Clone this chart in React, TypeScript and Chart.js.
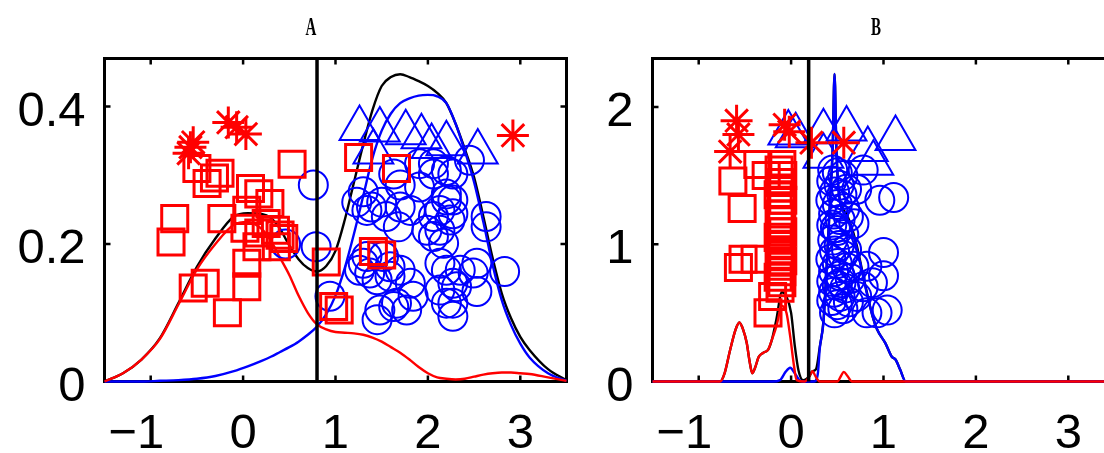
import React, { useEffect, useRef } from 'react';
import { Chart, registerables } from 'chart.js';

Chart.register(...registerables);

// ---------------- shared axis data ----------------
const X_MIN = -1.5;
const X_MAX = 3.5;
const X_TICKS = [-1, 0, 1, 2, 3];
const X_TICK_LABELS = ['\u22121', '0', '1', '2', '3'];

// ---------------- panel A ----------------
const A_TITLE = 'A';
const A_Y_MAX = 0.47;
const A_Y_TICKS = [0, 0.2, 0.4];
const A_Y_TICK_LABELS = ['0', '0.2', '0.4'];
const A_SPLIT = 0.8;

const A_CURVE_X = [-1.5, -1.3, -1.1, -0.9, -0.7, -0.5, -0.3, -0.1, 0.05, 0.2, 0.3, 0.4, 0.5, 0.6, 0.7, 0.8, 0.9, 1.0, 1.1, 1.2, 1.3, 1.4, 1.5, 1.6, 1.7, 1.8, 1.9, 2.0, 2.1, 2.2, 2.3, 2.4, 2.5, 2.6, 2.7, 2.8, 2.9, 3.0, 3.1, 3.3, 3.5];
const A_RED_Y = [0.0, 0.012, 0.032, 0.062, 0.112, 0.163, 0.2, 0.228, 0.232, 0.222, 0.205, 0.18, 0.155, 0.125, 0.1, 0.083, 0.076, 0.072, 0.071, 0.07, 0.068, 0.064, 0.058, 0.05, 0.042, 0.032, 0.021, 0.012, 0.006, 0.004, 0.003, 0.004, 0.007, 0.01, 0.012, 0.013, 0.013, 0.012, 0.011, 0.006, 0.001];
const A_BLUE_Y = [0.0, 0.0, 0.0, 0.001, 0.002, 0.004, 0.008, 0.015, 0.022, 0.03, 0.036, 0.043, 0.05, 0.058, 0.068, 0.08, 0.098, 0.125, 0.165, 0.215, 0.27, 0.325, 0.365, 0.39, 0.405, 0.412, 0.416, 0.417, 0.415, 0.405, 0.375, 0.335, 0.29, 0.232, 0.17, 0.118, 0.082, 0.055, 0.035, 0.012, 0.001];
const A_BLACK_Y = [0.0, 0.012, 0.032, 0.063, 0.114, 0.167, 0.208, 0.24, 0.245, 0.244, 0.238, 0.222, 0.198, 0.178, 0.165, 0.16, 0.168, 0.19, 0.235, 0.29, 0.345, 0.395, 0.43, 0.443, 0.447, 0.443, 0.437, 0.43, 0.42, 0.405, 0.375, 0.338, 0.297, 0.24, 0.18, 0.128, 0.092, 0.065, 0.046, 0.018, 0.002];

const A_SQUARES: [number, number][] = [
  [0.53, 0.316], [-0.25, 0.303], [-0.39, 0.288], [-0.31, 0.296], [-0.5, 0.31],
  [0.08, 0.281], [0.17, 0.273], [0.29, 0.259], [-0.74, 0.237], [-0.78, 0.203],
  [-0.23, 0.237], [0.04, 0.249], [0.02, 0.223], [0.17, 0.216], [0.4, 0.213],
  [0.44, 0.208], [0.35, 0.22], [0.15, 0.196], [0.36, 0.196], [0.25, 0.23],
  [0.04, 0.172], [0.04, 0.138], [-0.41, 0.143], [-0.54, 0.136], [-0.17, 0.1],
  [0.9, 0.174], [1.25, 0.326], [1.66, 0.31], [1.41, 0.189], [1.5, 0.184],
  [0.98, 0.109], [1.04, 0.104],
];
const A_STARS: [number, number][] = [
  [-0.57, 0.341], [-0.59, 0.332], [-0.54, 0.348], [-0.16, 0.377], [-0.07, 0.37],
  [0.03, 0.36], [2.92, 0.358],
];
const A_TRIANGLES: [number, number][] = [
  [1.26, 0.368], [1.48, 0.366], [1.76, 0.362], [1.93, 0.356], [2.04, 0.342],
  [2.2, 0.346], [2.54, 0.334], [1.41, 0.334],
];
const A_CIRCLES: [number, number][] = [
  [0.76, 0.286], [0.79, 0.196], [0.46, 0.2], [0.94, 0.124],
  [1.23, 0.261], [1.3, 0.276], [1.34, 0.249], [1.39, 0.254], [1.5, 0.261],
  [1.63, 0.302], [1.7, 0.286], [1.55, 0.24], [1.81, 0.249], [1.7, 0.254],
  [1.68, 0.225], [1.99, 0.22], [2.13, 0.249], [2.2, 0.273], [2.2, 0.264],
  [2.06, 0.302], [2.06, 0.317], [1.91, 0.317], [1.91, 0.283], [2.27, 0.302],
  [2.45, 0.322], [2.2, 0.307], [2.27, 0.264], [2.27, 0.244], [2.63, 0.24],
  [2.63, 0.225], [2.13, 0.22], [2.17, 0.201], [2.06, 0.24], [2.24, 0.235],
  [2.06, 0.211], [2.83, 0.16], [2.49, 0.158], [2.53, 0.172], [2.2, 0.162],
  [2.13, 0.172], [2.35, 0.162], [2.53, 0.131], [2.31, 0.138], [2.27, 0.143],
  [2.27, 0.114], [2.27, 0.095], [2.2, 0.114], [2.13, 0.133], [1.34, 0.182],
  [1.52, 0.182], [1.37, 0.158], [1.59, 0.153], [1.7, 0.162], [1.48, 0.104],
  [1.66, 0.114], [1.45, 0.09], [1.77, 0.104], [1.84, 0.124], [1.81, 0.143],
  [1.26, 0.162], [1.3, 0.172], [1.45, 0.148], [1.59, 0.167], [1.63, 0.109],
];

// ---------------- panel B ----------------
const B_TITLE = 'B';
const B_Y_MAX = 2.353;
const B_Y_TICKS = [0, 1, 2];
const B_Y_TICK_LABELS = ['0', '1', '2'];
const B_SPLIT = 0.19;

const B_RED_X = [-1.5, -0.77, -0.72, -0.66, -0.6, -0.56, -0.52, -0.48, -0.45, -0.42, -0.39, -0.35, -0.3, -0.25, -0.21, -0.16, -0.1, -0.05, -0.01, 0.03, 0.06, 0.15, 0.2, 0.23, 0.27, 0.31, 0.5, 0.54, 0.57, 0.61, 0.66, 3.5];
const B_RED_Y = [0, 0, 0.06, 0.23, 0.38, 0.43, 0.38, 0.28, 0.15, 0.06, 0.1, 0.18, 0.21, 0.23, 0.3, 0.4, 0.55, 0.5, 0.33, 0.12, 0.01, 0, 0.04, 0.075, 0.03, 0, 0, 0.04, 0.07, 0.04, 0, 0];
const B_BLUE_X = [-1.5, -0.2, -0.12, -0.06, -0.01, 0.04, 0.09, 0.13, 0.25, 0.29, 0.31, 0.35, 0.39, 0.42, 0.45, 0.47, 0.49, 0.52, 0.6, 0.7, 0.8, 0.88, 0.93, 1.02, 1.09, 1.13, 1.18, 1.24, 3.5];
const B_BLUE_Y = [0, 0, 0.01, 0.07, 0.1, 0.06, 0.01, 0, 0, 0.06, 0.24, 0.43, 0.9, 1.3, 1.7, 2.24, 1.7, 1.35, 1.2, 1.0, 0.7, 0.48, 0.38, 0.28, 0.18, 0.16, 0.087, 0, 0];
const B_BLACK_X = [-1.5, -0.77, -0.72, -0.66, -0.6, -0.56, -0.52, -0.48, -0.45, -0.42, -0.39, -0.35, -0.3, -0.25, -0.21, -0.16, -0.1, -0.05, 0.0, 0.04, 0.08, 0.13, 0.2, 0.23, 0.27, 0.31, 0.35, 0.39, 0.42, 0.45, 0.47, 0.49, 0.52, 0.6, 0.7, 0.8, 0.88, 0.93, 1.02, 1.09, 1.13, 1.18, 1.24, 3.5];
const B_BLACK_Y = [0, 0, 0.06, 0.23, 0.38, 0.43, 0.38, 0.28, 0.15, 0.06, 0.1, 0.18, 0.21, 0.23, 0.3, 0.45, 0.65, 0.62, 0.5, 0.26, 0.08, 0.01, 0.04, 0.075, 0.09, 0.25, 0.44, 0.9, 1.3, 1.7, 2.24, 1.7, 1.36, 1.22, 1.02, 0.71, 0.48, 0.38, 0.28, 0.18, 0.16, 0.087, 0, 0];

const B_SQUARES: [number, number][] = [
  [-0.1, 1.58], [-0.13, 1.54], [-0.09, 1.5], [-0.12, 1.45], [-0.1, 1.41],
  [-0.14, 1.36], [-0.09, 1.32], [-0.11, 1.28], [-0.13, 1.22], [-0.1, 1.18],
  [-0.12, 1.13], [-0.09, 1.09], [-0.14, 1.05], [-0.11, 1.0], [-0.1, 0.96],
  [-0.13, 0.92], [-0.09, 0.88], [-0.12, 0.84], [-0.1, 0.8], [-0.14, 0.76],
  [-0.1, 0.72], [-0.12, 0.68],
  [-0.63, 1.46], [-0.53, 1.26], [-0.36, 1.58], [-0.27, 1.5], [-0.57, 0.83],
  [-0.52, 0.89], [-0.39, 0.89], [-0.25, 0.5], [-0.2, 0.62],
];
const B_STARS: [number, number][] = [
  [-0.59, 1.9], [-0.57, 1.8], [-0.66, 1.675], [-0.07, 1.87], [-0.02, 1.82],
  [0.22, 1.74], [0.57, 1.74],
];
const B_TRIANGLES: [number, number][] = [
  [-0.03, 1.81], [0.05, 1.79], [0.35, 1.82], [0.6, 1.84], [0.83, 1.69],
  [1.13, 1.77], [0.35, 1.64], [0.89, 1.59],
];
const B_CIRCLES: [number, number][] = [
  [0.45, 1.54], [0.5, 1.52], [0.56, 1.5], [0.44, 1.46], [0.52, 1.43],
  [0.47, 1.38], [0.55, 1.36], [0.43, 1.32], [0.5, 1.29], [0.58, 1.26],
  [0.46, 1.22], [0.53, 1.18], [0.44, 1.14], [0.5, 1.1], [0.57, 1.07],
  [0.45, 1.03], [0.52, 0.99], [0.47, 0.95], [0.56, 0.92], [0.43, 0.89],
  [0.5, 0.86], [0.6, 0.83], [0.46, 0.8], [0.53, 0.77], [0.44, 0.73],
  [0.5, 0.7], [0.58, 0.68], [0.46, 0.65], [0.53, 0.62], [0.44, 0.59],
  [0.5, 0.56], [0.56, 0.53], [0.47, 0.5], [0.62, 0.58], [0.64, 0.75],
  [0.6, 0.96], [0.62, 1.2], [0.6, 1.4], [0.48, 1.12], [0.54, 0.72],
  [0.96, 1.32], [1.11, 1.34], [0.78, 1.54], [0.71, 1.4], [0.68, 1.15],
  [1.0, 0.94], [1.0, 0.77], [0.82, 0.84], [0.78, 0.69], [1.04, 0.52],
  [0.93, 0.5], [0.82, 0.5], [0.68, 0.84], [0.71, 0.62], [0.88, 0.72],
];

// ---------------- helpers ----------------
const RED = '#ff0000';
const BLUE = '#0000ff';
const BLACK = '#000000';

const pts = (arr: [number, number][]) => arr.map(([x, y]) => ({ x, y }));
const zip = (xs: number[], ys: number[]) => xs.map((x, i) => ({ x, y: ys[i] }));

function curveDs(data: any[], color: string, order: number) {
  return {
    data,
    showLine: true,
    borderColor: color,
    borderWidth: 2.4,
    pointRadius: 0,
    pointHoverRadius: 0,
    cubicInterpolationMode: 'monotone',
    clip: false,
    order,
  };
}

function markerDs(data: any[], style: string, radius: number, color: string, width: number, order: number) {
  return {
    data,
    showLine: false,
    pointStyle: style,
    pointRadius: radius,
    pointHoverRadius: radius,
    pointBorderColor: color,
    pointBorderWidth: width,
    pointBackgroundColor: 'rgba(0,0,0,0)',
    borderColor: color,
    backgroundColor: 'rgba(0,0,0,0)',
    clip: false,
    order,
  };
}

function splitDs(x: number, yMax: number) {
  return {
    data: [{ x, y: 0 }, { x, y: yMax }],
    showLine: true,
    borderColor: BLACK,
    borderWidth: 3.5,
    pointRadius: 0,
    clip: false,
    order: 0,
  };
}

const TICK_FONT = '49px "Liberation Sans", Arial, sans-serif';

function axesPlugin(cfg: { yTicks: number[]; yLabels: string[]; title: string; titleX: number }) {
  return {
    id: 'matlabAxes',
    beforeDatasetsDraw(chart: any) {
      const { ctx, chartArea: a, scales } = chart;
      const xs = scales.x;
      const ys = scales.y;
      ctx.save();
      ctx.strokeStyle = BLACK;
      ctx.lineWidth = 3;
      ctx.strokeRect(a.left, a.top, a.right - a.left, a.bottom - a.top);
      ctx.lineWidth = 2.5;
      const tl = 6;
      ctx.beginPath();
      X_TICKS.forEach((v) => {
        const px = xs.getPixelForValue(v);
        ctx.moveTo(px, a.bottom);
        ctx.lineTo(px, a.bottom - tl);
        ctx.moveTo(px, a.top);
        ctx.lineTo(px, a.top + tl);
      });
      cfg.yTicks.forEach((v) => {
        const py = ys.getPixelForValue(v);
        ctx.moveTo(a.left, py);
        ctx.lineTo(a.left + tl, py);
        ctx.moveTo(a.right, py);
        ctx.lineTo(a.right - tl, py);
      });
      ctx.stroke();

      ctx.fillStyle = BLACK;
      ctx.font = TICK_FONT;
      ctx.textBaseline = 'alphabetic';
      ctx.textAlign = 'right';
      X_TICKS.forEach((v, i) => {
        const label = X_TICK_LABELS[i];
        const digits = label.replace('\u2212', '');
        const w = ctx.measureText(digits).width;
        const px = xs.getPixelForValue(v);
        ctx.fillText(label, px + w / 2, 448);
      });
      cfg.yTicks.forEach((v, i) => {
        const py = ys.getPixelForValue(v);
        ctx.fillText(cfg.yLabels[i], a.left - 19, py + 19);
      });

      // title
      ctx.save();
      ctx.translate(cfg.titleX, 35);
      ctx.scale(0.6, 1);
      ctx.font = 'bold 25px "Liberation Serif", serif';
      ctx.textAlign = 'center';
      ctx.textBaseline = 'alphabetic';
      ctx.fillText(cfg.title, 0, 0);
      ctx.restore();
      ctx.restore();
    },
  };
}

function makeChart(
  canvas: HTMLCanvasElement,
  datasets: any[],
  yMax: number,
  padding: { left: number; right: number; top: number; bottom: number },
  plugin: any
) {
  return new Chart(canvas, {
    type: 'scatter',
    data: { datasets },
    options: {
      animation: false,
      responsive: false,
      devicePixelRatio: 1,
      events: [],
      layout: { padding, autoPadding: false },
      plugins: { legend: { display: false }, tooltip: { enabled: false }, title: { display: false } },
      scales: {
        x: { type: 'linear', min: X_MIN, max: X_MAX, display: false },
        y: { type: 'linear', min: 0, max: yMax, display: false },
      },
    } as any,
    plugins: [plugin],
  });
}

export default function App() {
  const refA = useRef<HTMLCanvasElement>(null);
  const refB = useRef<HTMLCanvasElement>(null);

  useEffect(() => {
    const top = 58.5;
    const bottom = 453 - 381.5;

    const dsA = [
      splitDs(A_SPLIT, A_Y_MAX),
      markerDs(pts(A_STARS), 'star', 16, RED, 3, 1),
      markerDs(pts(A_SQUARES), 'rect', 18.4, RED, 3, 2),
      markerDs(pts(A_TRIANGLES), 'triangle', 23, BLUE, 2, 3),
      markerDs(pts(A_CIRCLES), 'circle', 14.5, BLUE, 2, 4),
      curveDs(zip(A_CURVE_X, A_RED_Y), RED, 5),
      curveDs(zip(A_CURVE_X, A_BLUE_Y), BLUE, 6),
      curveDs(zip(A_CURVE_X, A_BLACK_Y), BLACK, 7),
    ];
    const dsB = [
      splitDs(B_SPLIT, B_Y_MAX),
      markerDs(pts(B_STARS), 'star', 16, RED, 3, 1),
      markerDs(pts(B_SQUARES), 'rect', 18.4, RED, 3, 2),
      markerDs(pts(B_TRIANGLES), 'triangle', 23, BLUE, 2, 3),
      markerDs(pts(B_CIRCLES), 'circle', 14.5, BLUE, 2, 4),
      curveDs(zip(B_RED_X, B_RED_Y), RED, 5),
      curveDs(zip(B_BLUE_X, B_BLUE_Y), BLUE, 6),
      curveDs(zip(B_BLACK_X, B_BLACK_Y), BLACK, 7),
    ];

    const chartA = makeChart(
      refA.current!,
      dsA,
      A_Y_MAX,
      { left: 104.5, right: 580 - 566.5, top, bottom },
      axesPlugin({ yTicks: A_Y_TICKS, yLabels: A_Y_TICK_LABELS, title: A_TITLE, titleX: 311 })
    );
    const chartB = makeChart(
      refB.current!,
      dsB,
      B_Y_MAX,
      { left: 652.5 - 560, right: 600 - (1114.5 - 560), top, bottom },
      axesPlugin({ yTicks: B_Y_TICKS, yLabels: B_Y_TICK_LABELS, title: B_TITLE, titleX: 876 - 560 })
    );
    return () => {
      chartA.destroy();
      chartB.destroy();
    };
  }, []);

  return (
    <div
      style={{
        position: 'absolute',
        left: 0,
        top: 0,
        width: 1104,
        height: 453,
        overflow: 'hidden',
        background: '#ffffff',
      }}
    >
      <canvas
        ref={refA}
        width={580}
        height={453}
        style={{ position: 'absolute', left: 0, top: 0, width: 580, height: 453 }}
      />
      <canvas
        ref={refB}
        width={600}
        height={453}
        style={{ position: 'absolute', left: 560, top: 0, width: 600, height: 453 }}
      />
    </div>
  );
}
